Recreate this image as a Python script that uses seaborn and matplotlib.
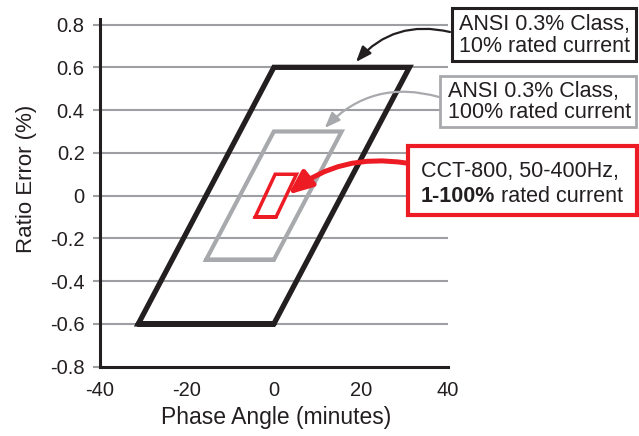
"""ANSI 0.3% accuracy parallelograms vs CCT-800 accuracy box."""

import matplotlib
matplotlib.use('Agg')
import matplotlib.pyplot as plt
from matplotlib.patches import Rectangle
import numpy as np
import pandas as pd
import seaborn as sns

# Corner points of each accuracy region (phase angle in minutes, ratio error in %)
phase_10pct = [-31.2, 0.0, 31.2, 0.0]
ratio_10pct = [-0.6, -0.6, 0.6, 0.6]
phase_100pct = [-15.6, 0.0, 15.6, 0.0]
ratio_100pct = [-0.3, -0.3, 0.3, 0.3]
phase_cct = [-4.3, 0.5, 5.2, 0.3]
ratio_cct = [-0.1, -0.1, 0.1, 0.1]

y_ticks = [-0.8, -0.6, -0.4, -0.2, 0, 0.2, 0.4, 0.6, 0.8]
y_tick_labels = ['-0.8', '-0.6', '-0.4', '-0.2', '0', '0.2', '0.4', '0.6', '0.8']
x_ticks = [-40, -20, 0, 20, 40]

box_text_10 = ['ANSI 0.3% Class,', '10% rated current']
box_text_100 = ['ANSI 0.3% Class,', '100% rated current']
box_text_cct = ['CCT-800, 50-400Hz,', '1-100%', ' rated current']

DARK = '#231f20'
GRAY = '#a7a9ac'
GRID = '#9d9fa2'
RED = '#ed1c24'

W, H = 639, 436

sns.set_theme(style='white')
plt.rcParams['font.family'] = ['Liberation Sans', 'DejaVu Sans']
plt.rcParams['lines.solid_joinstyle'] = 'miter'


def closed(px, py):
    # repeat first two corners so every corner gets a mitered join
    return pd.DataFrame({'phase': px + px[:2], 'ratio': py + py[:2]})


def fig_xy(x, y):
    return x / W, 1 - y / H


fig = plt.figure(figsize=(W / 100, H / 100), dpi=100)
ax = fig.add_axes([100 / W, 1 - 366.7 / H, 347.7 / W, 347.7 / H])

# horizontal grid lines
for yv in y_ticks[1:]:
    ax.axhline(yv, color=GRID, lw=1.5, zorder=1)

sns.lineplot(data=closed(phase_10pct, ratio_10pct), x='phase', y='ratio',
             sort=False, estimator=None, color=DARK, lw=3.8, ax=ax, zorder=3)
sns.lineplot(data=closed(phase_100pct, ratio_100pct), x='phase', y='ratio',
             sort=False, estimator=None, color=GRAY, lw=3.0, ax=ax, zorder=3)
sns.lineplot(data=closed(phase_cct, ratio_cct), x='phase', y='ratio',
             sort=False, estimator=None, color=RED, lw=2.5, ax=ax, zorder=4)

ax.set_xlim(-40, 40)
ax.set_ylim(-0.8, 0.826)
ax.set_xticks(x_ticks)
ax.set_xticklabels([str(v) for v in x_ticks])
ax.set_yticks(y_ticks)
ax.set_yticklabels(y_tick_labels)
ax.tick_params(axis='x', length=0, pad=10, labelsize=14.5, labelcolor=DARK)
ax.tick_params(axis='y', length=5, width=1.5, color=GRID, pad=6,
               labelsize=14.5, labelcolor=DARK, left=True)

for side in ['top', 'right']:
    ax.spines[side].set_visible(False)
for side in ['left', 'bottom']:
    ax.spines[side].set_color(DARK)
    ax.spines[side].set_linewidth(2.2)
    ax.spines[side].set_zorder(5)

ax.set_xlabel('Phase Angle (minutes)', fontsize=16.5, color=DARK)
ax.set_ylabel('Ratio Error (%)', fontsize=16, color=DARK)
ax.xaxis.set_label_coords(0.506, -0.145)
ax.xaxis.label.set_va('center')
ax.yaxis.set_label_coords(-0.21, 0.54)
ax.yaxis.label.set_va('center')

# annotation boxes (figure pixel positions)
boxes = [
    (452, 8, 184, 53, DARK, 2.2),
    (440, 76, 196, 51, GRAY, 2.0),
    (408, 146, 229, 69, RED, 3.0),
]
for x0, y0, bw, bh, ec, lw in boxes:
    fx, fy = fig_xy(x0, y0 + bh)
    fig.add_artist(Rectangle((fx, fy), bw / W, bh / H, transform=fig.transFigure,
                             facecolor='white', edgecolor=ec, lw=lw, zorder=6))

fs = 15.5
for (x0, y0), line in zip([(459, 30), (459, 51.7)], box_text_10):
    fig.text(*fig_xy(x0, y0), line, fontsize=fs, color=DARK, va='baseline', zorder=7)
for (x0, y0), line in zip([(448, 96.7), (448, 118.3)], box_text_100):
    fig.text(*fig_xy(x0, y0), line, fontsize=fs, color=DARK, va='baseline', zorder=7)
fig.text(*fig_xy(421, 176.7), box_text_cct[0], fontsize=fs, color=DARK,
         va='baseline', zorder=7)
bold = fig.text(*fig_xy(421, 201.7), box_text_cct[1], fontsize=fs, color=DARK,
                fontweight='bold', va='baseline', zorder=7)
fig.add_artist(matplotlib.text.Annotation(box_text_cct[2], xy=(1, 0), xycoords=bold,
                                          va='bottom', fontsize=fs, color=DARK,
                                          zorder=7))

# curved arrows from boxes to regions
arrows = [
    ((450, 32), (18.9, 0.625), DARK, 1.6, 'head_length=0.47,head_width=0.18', 0.3),
    ((439, 97), (11.7, 0.316), GRAY, 1.6, 'head_length=0.47,head_width=0.18', 0.3),
    ((406, 163), (3.3, 0.005), RED, 3.6, 'head_length=0.72,head_width=0.3', 0.22),
]
for (sx, sy), tip, col, lw, head, rad in arrows:
    ax.annotate('', xy=tip, xycoords='data', xytext=(sx, H - sy),
                textcoords='figure pixels', annotation_clip=False,
                arrowprops=dict(arrowstyle='-|>,' + head, color=col, lw=lw,
                                mutation_scale=20, shrinkA=0, shrinkB=0,
                                connectionstyle=f'arc3,rad={rad}'),
                zorder=5)

fig.savefig('out.png', dpi=100)
